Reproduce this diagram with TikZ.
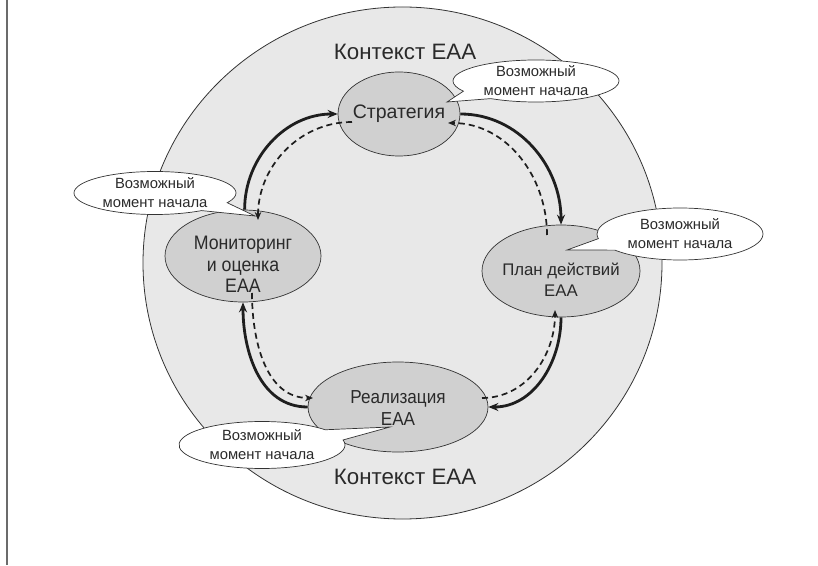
\documentclass[tikz,border=0pt]{standalone}
\usepackage{fontspec}
\setmainfont{Liberation Sans}
\newfontfamily\narrowfont{Liberation Sans}[FakeStretch=0.91]
\usepackage{tikz}
\usetikzlibrary{
  arrows.meta,
  shapes,
  shapes.geometric,
  shapes.callouts,
  positioning,
  calc
}
\definecolor{eaContext}{HTML}{E8E8E8}
\definecolor{eaStage}{HTML}{D0D0D0}
\definecolor{eaLine}{HTML}{333333}
\definecolor{eaText}{HTML}{2A2A2A}
\definecolor{eaFrame}{HTML}{6B6B6B}
\definecolor{eaArrow}{HTML}{1E1E1E}
\tikzset{
  context/.style={ellipse, draw=eaLine, fill=eaContext, line width=0.8pt, inner sep=0pt},
  ctxlabel/.style={text=eaText, inner sep=0pt, font=\fontsize{22.3}{26}\selectfont},
  stage/.style={ellipse, draw=eaLine, fill=eaStage, line width=0.7pt, inner sep=0pt},
  stagetext/.style={align=center, text=eaText, inner sep=0pt},
  hint/.style={
    ellipse callout, draw=eaLine, fill=white, line width=0.7pt, inner sep=0pt,
    callout pointer arc=28
  },
  hinttext/.style={align=center, text=eaText, inner sep=0pt, font=\fontsize{14.8}{19}\selectfont},
  cycle/.style={-{Stealth[length=10pt, width=8pt]}, line width=2.8pt, eaArrow},
  backflow/.style={-{Stealth[length=8pt, width=6.5pt]}, line width=1.7pt, dash pattern=on 6pt off 4pt, eaArrow}
}

\begin{document}
\begin{tikzpicture}[x=1pt, y=1pt]
  \useasboundingbox (0,0) rectangle (818,565);
  \draw[eaFrame, line width=1.5pt] (7,0) -- (7,565);

  \node[context, minimum width=519pt, minimum height=512pt] (ctx) at (402.5,302) {};
  \node[ctxlabel] (ctxTop) at (405,513) {Контекст ЕАА};
  \node[ctxlabel] (ctxBot) at (405,88) {Контекст ЕАА};

  \node[stage, minimum width=122pt, minimum height=84pt] (strat) at (399,451) {};
  \node[stage, minimum width=156pt, minimum height=92pt] (mon) at (243,309) {};
  \node[stage, minimum width=158pt, minimum height=92pt] (plan) at (561,294) {};
  \node[stage, minimum width=180pt, minimum height=90pt] (real) at (398,158) {};

  \node[hint, minimum width=166pt, minimum height=42pt, callout absolute pointer={($(strat)+(48,12)$)}] (hintS) at (536,484) {};
  \node[hint, minimum width=162pt, minimum height=43pt, callout absolute pointer={($(mon)+(12,40)$)}] (hintM) at (155,372) {};
  \node[hint, minimum width=166pt, minimum height=52pt, callout absolute pointer={($(plan)+(6,21)$)}] (hintP) at (680,331) {};
  \node[hint, minimum width=166pt, minimum height=47pt, callout absolute pointer={($(real)+(-8,-20)$)}] (hintR) at (262,120) {};

  \node[hinttext] (hintST) at (hintS) {Возможный\\момент начала};
  \node[hinttext] (hintMT) at (hintM) {Возможный\\момент начала};
  \node[hinttext] (hintPT) at (hintP) {Возможный\\момент начала};
  \node[hinttext] (hintRT) at (hintR) {Возможный\\момент начала};

  \node[stagetext, font=\fontsize{19.5}{21.5}\selectfont] (stratT) at (strat) {Стратегия};
  \node[stagetext, font=\narrowfont\fontsize{19.5}{21.5}\selectfont] (monT) at ($(mon)+(0,-8.5)$) {Мониторинг\\и оценка\\ЕАА};
  \node[stagetext, font=\fontsize{16.8}{21}\selectfont] (planT) at ($(plan)+(0,-9)$) {План действий\\ЕАА};
  \node[stagetext, font=\narrowfont\fontsize{18.8}{22}\selectfont] (realT) at ($(real)+(0,-1)$) {Реализация\\ЕАА};

  \draw[cycle] (mon.88) to[out=90, in=180] (strat.west);
  \draw[cycle] (strat.east) to[out=0, in=90] (plan.north);
  \draw[cycle] (plan.south) to[out=270, in=0] (real.east);
  \draw[cycle] (real.west) to[out=180, in=270] (mon.south);

  \draw[backflow] ($(strat)+(-47,-8)$) to[out=180, in=90] ($(mon)+(15,36)$);
  \draw[backflow] ($(plan)+(-14,36)$) to[out=90, in=0] ($(strat)+(49,-9)$);
  \draw[backflow] ($(real)+(84,9)$) to[out=0, in=270] ($(plan)+(-6,-39)$);
  \draw[backflow] ($(mon)+(9,-37)$) to[out=270, in=180] ($(real)+(-85,9)$);
\end{tikzpicture}
\end{document}
